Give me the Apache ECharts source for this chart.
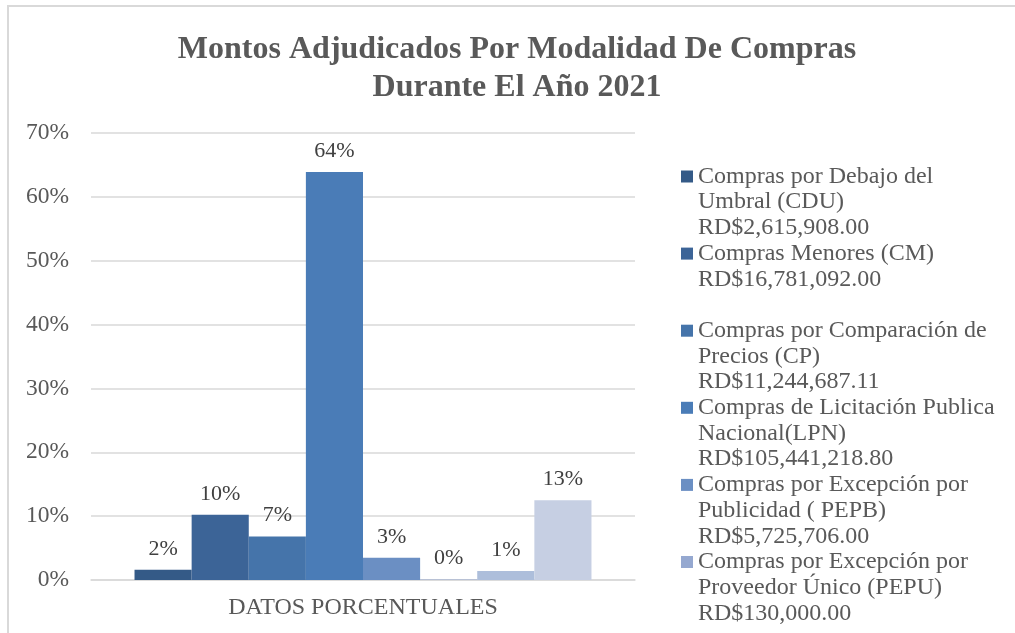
<!DOCTYPE html>
<html>
<head>
<meta charset="utf-8">
<script src="https://cdn.jsdelivr.net/npm/echarts@6/dist/echarts.min.js"></script>
<style>
html,body{margin:0;padding:0;background:#fff;}
#chart{width:1015px;height:633px;}
</style>
</head>
<body>
<div id="chart"></div>
<script>
// ---- data ----
const categories = ['DATOS PORCENTUALES'];
const seriesNames = [
  'Compras por Debajo del Umbral (CDU) RD$2,615,908.00',
  'Compras Menores (CM) RD$16,781,092.00',
  'Compras por Comparación de Precios (CP) RD$11,244,687.11',
  'Compras de Licitación Publica Nacional(LPN) RD$105,441,218.80',
  'Compras por Excepción por Publicidad ( PEPB) RD$5,725,706.00',
  'Compras por Excepción por Proveedor Único (PEPU) RD$130,000.00',
  'Serie 7',
  'Serie 8'
];
const legendTexts = [
  'Compras por Debajo del\nUmbral (CDU)\nRD$2,615,908.00',
  'Compras Menores (CM)\nRD$16,781,092.00\n ',
  'Compras por Comparación de\nPrecios (CP)\nRD$11,244,687.11',
  'Compras de Licitación Publica\nNacional(LPN)\nRD$105,441,218.80',
  'Compras por Excepción por\nPublicidad ( PEPB)\nRD$5,725,706.00',
  'Compras por Excepción por\nProveedor Único (PEPU)\nRD$130,000.00'
];
const seriesValues = [0.0159, 0.102, 0.068, 0.639, 0.0347, 0.0008, 0.014, 0.125];
const yTicks = [0, 0.1, 0.2, 0.3, 0.4, 0.5, 0.6, 0.7];
const palette = ['#345a87', '#3c6497', '#4574aa', '#4a7cb7', '#6b8fc3', '#95a8d0', '#adbedb', '#c6cfe3'];

// ---- chart ----
const serif = "'Liberation Serif', 'Times New Roman', serif";
const txt = '#595959';
const LH = 25.7;
const chart = echarts.init(document.getElementById('chart'));
const option = {
  animation: false,
  backgroundColor: '#fff',
  title: {
    text: 'Montos Adjudicados Por Modalidad De Compras\nDurante El Año 2021',
    left: 512,
    textAlign: 'center',
    top: 26,
    textStyle: { fontFamily: serif, fontWeight: 'bold', fontSize: 32, lineHeight: 38, color: txt }
  },
  graphic: [{
    type: 'rect',
    shape: { x: 8, y: 6, width: 1030, height: 650 },
    style: { fill: 'none', stroke: '#d9d9d9', lineWidth: 2 },
    silent: true
  }],
  grid: { left: 91, right: 380, top: 133, bottom: 53 },
  legend: {
    orient: 'vertical',
    left: 681,
    top: 176.5 - 2 * LH - LH / 2,
    height: 1200,
    padding: 0,
    itemGap: -2 * LH,
    itemWidth: 12,
    itemHeight: 12,
    icon: 'rect',
    data: seriesNames.slice(0, legendTexts.length),
    formatter: function (name) { return '\n\n' + legendTexts[seriesNames.indexOf(name)]; },
    textStyle: { fontFamily: serif, fontSize: 24, lineHeight: LH, color: txt }
  },
  xAxis: {
    type: 'category',
    data: categories,
    axisTick: { show: false },
    axisLine: { lineStyle: { color: '#d9d9d9', width: 1.5 } },
    axisLabel: { fontFamily: serif, fontSize: 24, color: txt, margin: 16 }
  },
  yAxis: {
    type: 'value',
    min: yTicks[0],
    max: yTicks[yTicks.length - 1],
    interval: 0.1,
    axisLine: { show: false },
    axisTick: { show: false },
    splitLine: { lineStyle: { color: '#d9d9d9', width: 1.5 } },
    axisLabel: {
      fontFamily: serif, fontSize: 23.5, color: txt, margin: 22,
      formatter: function (v) { return Math.round(v * 100) + '%'; }
    }
  },
  series: seriesNames.map(function (n, i) {
    return {
      name: n,
      type: 'bar',
      data: [seriesValues[i]],
      barGap: '0%',
      barCategoryGap: '16%',
      itemStyle: { color: palette[i] },
      label: {
        show: true,
        position: 'top',
        distance: 10,
        fontFamily: serif,
        fontSize: 22,
        color: '#404040',
        formatter: function (p) { return Math.round(p.value * 100) + '%'; }
      }
    };
  })
};
chart.setOption(option);
</script>
</body>
</html>
